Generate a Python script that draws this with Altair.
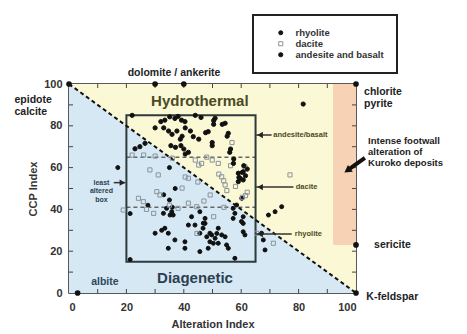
import altair as alt
import pandas as pd

FONT = "Liberation Sans"

# ---------------- data ----------------
rhy_x = [17, 35, 37, 33, 35, 36, 27.5, 21.3, 21.3, 30, 32.3, 33.4, 34.6, 36.9, 40.4, 34.6, 40.4,
         35.2, 36.3, 42.7, 41.6, 43.9, 47.4, 47.4, 45.6, 46.7, 48, 49.7, 50.9, 51.5, 53.2, 54.4,
         49.1, 50.3, 52, 54.9, 55.5, 48.5, 45.6, 57.8, 57.2, 57.8, 60.7, 60.7, 61.3, 52, 60.7,
         60.1, 57.2, 67.1, 67.7, 68.3, 69.5, 71.8, 74.1, 34, 35.8, 32.9, 45.6, 46.8, 49.1, 58.4, 60.2]
rhy_y = [60, 60, 50, 47, 44.5, 41, 42, 38, 16, 28.6, 30, 31, 28.6, 25.4, 24.5, 21.4, 21.4,
         37.3, 37.3, 36.5, 32.5, 32.5, 35.7, 33.3, 28.6, 31, 26.9, 27.8, 26.2, 28.5, 27.8, 26.9,
         24.5, 23.8, 23.8, 23, 21.4, 21.4, 19.8, 16.6, 35.7, 38.1, 33.3, 29.3, 27.8, 31, 36.5,
         34.2, 40.5, 28.6, 25.4, 20.6, 37.3, 38.9, 41.3, 40.5, 38.9, 38.1, 38.9, 33.4, 28.6, 42.1, 45.3]

dac_x = [56.8, 49.9, 45.2, 44, 56.3, 52.2, 53.9, 62.1, 61.5, 60.4, 77, 22, 28.2, 31.1, 41.6, 40.5,
         44.9, 39.4, 24.2, 25.9, 30.6, 31.7, 18.9, 29.5, 41.6, 44.5, 49.2, 50.4, 44.6, 71.2, 65.4,
         26, 30, 36, 48, 52, 58, 55, 47, 35, 38, 54, 27, 46.2, 53.2, 61.3, 54.4]
dac_y = [72, 63.6, 61.2, 63.6, 60.9, 56.9, 53.7, 48.2, 46.6, 45.8, 56.5, 66, 58.9, 56.5, 54.9, 55.5,
         53.1, 50.2, 45.3, 43.7, 48.5, 46.9, 39.7, 38.1, 43, 41.3, 46.9, 36.5, 28.5, 23.8, 28.6,
         66, 65.5, 64.5, 65, 62, 51, 49, 44, 42, 40.5, 41, 40, 62, 55.6, 60.4, 51.7]

and_x = [22, 32, 33.4, 35.1, 36.9, 38, 39.2, 40.4, 33, 34.7, 35.9, 37.6, 39.4, 38.8, 40.5, 42.3,
         45.2, 47.6, 50.4, 50.4, 53.4, 55.1, 49.9, 49.9, 37.1, 39, 40, 41.6, 35.5, 40.5, 56.3, 56,
         57.4, 60.9, 62.1, 60.4, 59.2, 61.5, 81.6, 24.7, 26.5, 23, 44, 46, 30, 43.3, 48.5, 50.9,
         54.4, 55.5, 59, 60.7, 59.6, 60.7, 59, 57.3]
and_y = [85, 82, 82.7, 84.3, 83.5, 84.5, 82.7, 82, 79, 77.5, 75.9, 77.5, 75, 73.6, 79, 77.5,
         73.6, 76.7, 82.5, 80.7, 80.7, 75, 72, 70.5, 69.7, 70.5, 68.9, 67.3, 70.5, 66.5, 68.9, 67.3,
         64.1, 60.9, 59.3, 57.7, 55.3, 56.1, 90.4, 70, 71.6, 69, 85, 84, 79, 74.8, 77.2, 83.6,
         81.2, 76.4, 57.3, 58, 54.9, 54.1, 53.3, 62]

rocks = ["rhyolite", "dacite", "andesite and basalt"]

diag_x = [0, 100]
diag_y = [100, 0]

box_x = [20, 65]
box_y = [15, 85]
dash_levels = [65, 41]

kuroko_x = [92, 100]
kuroko_y = [23, 100]

minerals = ["epidote calcite", "dolomite", "ankerite", "chlorite pyrite", "sericite", "K-feldspar", "albite"]
min_x = [0, 30, 40, 100, 100, 100, 3]
min_y = [100, 100, 100, 100, 23, 0, 0]

tick_vals = [10, 20, 30, 40, 50, 60, 70, 80, 90]
axis_vals = [0, 20, 40, 60, 80, 100]

# ---------------- tables ----------------
pts = pd.DataFrame({
    "ai": rhy_x + dac_x + and_x,
    "ccp": rhy_y + dac_y + and_y,
    "rock": [rocks[0]] * len(rhy_x) + [rocks[1]] * len(dac_x) + [rocks[2]] * len(and_x),
})
diag = pd.DataFrame({"ai": diag_x, "ccp": diag_y, "top": [100, 100], "bot": [0, 0]})
mins = pd.DataFrame({"ai": min_x, "ccp": min_y, "name": minerals})
box = pd.DataFrame({"x": [box_x[0]], "x2": [box_x[1]], "y": [box_y[0]], "y2": [box_y[1]]})
dashes = pd.DataFrame({"x": [box_x[0]] * 2, "x2": [box_x[1]] * 2, "y": dash_levels})
kur = pd.DataFrame({"x": [kuroko_x[0]], "x2": [kuroko_x[1]], "y": [kuroko_y[0]], "y2": [kuroko_y[1]]})
ticks = pd.DataFrame({"v": tick_vals})

X = alt.Scale(domain=[0, 100], nice=False, zero=False)
Y = alt.Scale(domain=[0, 100], nice=False, zero=False)

base = alt.Chart(diag)

blue = base.mark_area(color="#d5e8f4", opacity=1).encode(
    x=alt.X("ai:Q", scale=X, title="Alteration Index",
            axis=alt.Axis(values=axis_vals, grid=False, ticks=False, domain=False,
                          labelPadding=8, titlePadding=6)),
    y=alt.Y("ccp:Q", scale=Y, title="CCP Index",
            axis=alt.Axis(values=axis_vals, grid=False, ticks=False, domain=False,
                          labelPadding=7, titlePadding=5)),
    y2="bot:Q",
)
yellow = base.mark_area(color="#fbf8d6", opacity=1).encode(
    x=alt.X("ai:Q", scale=X), y=alt.Y("top:Q", scale=Y), y2="ccp:Q")

kuroko = alt.Chart(kur).mark_rect(color="#f8d2b4").encode(
    x=alt.X("x:Q", scale=X), x2="x2:Q", y=alt.Y("y:Q", scale=Y), y2="y2:Q")

diag_line = base.mark_line(color="#111", strokeWidth=2, strokeDash=[4, 3]).encode(
    x=alt.X("ai:Q", scale=X), y=alt.Y("ccp:Q", scale=Y))

box_mark = alt.Chart(box).mark_rect(fill=None, stroke="#2d3b3b", strokeWidth=2).encode(
    x=alt.X("x:Q", scale=X), x2="x2:Q", y=alt.Y("y:Q", scale=Y), y2="y2:Q")

dash_mark = alt.Chart(dashes).mark_rule(color="#666", strokeWidth=1.5, strokeDash=[4, 3]).encode(
    x=alt.X("x:Q", scale=X), x2="x2:Q", y=alt.Y("y:Q", scale=Y))

# inward ticks on all four sides
tb = alt.Chart(ticks).mark_rule(color="#444", strokeWidth=1)
ticks_l = alt.layer(
    tb.encode(x=alt.X("v:Q", scale=X), y=alt.value(209), y2=alt.value(205)),
    tb.encode(x=alt.X("v:Q", scale=X), y=alt.value(0), y2=alt.value(4)),
    tb.encode(y=alt.Y("v:Q", scale=Y), x=alt.value(0), x2=alt.value(4)),
    tb.encode(y=alt.Y("v:Q", scale=Y), x=alt.value(287), x2=alt.value(283)),
)

points = alt.Chart(pts).mark_point(strokeWidth=1, opacity=1).encode(
    x=alt.X("ai:Q", scale=X),
    y=alt.Y("ccp:Q", scale=Y),
    shape=alt.Shape("rock:N", scale=alt.Scale(domain=rocks, range=["circle", "square", "circle"]),
                    legend=alt.Legend(title=None)),
    fill=alt.Fill("rock:N", scale=alt.Scale(domain=rocks, range=["#111", "transparent", "#111"]),
                  legend=alt.Legend(title=None)),
    stroke=alt.Stroke("rock:N", scale=alt.Scale(domain=rocks, range=["#111", "#8a949c", "#111"]),
                      legend=alt.Legend(title=None)),
    size=alt.Size("rock:N", scale=alt.Scale(domain=rocks, range=[16, 18, 9]),
                  legend=alt.Legend(title=None)),
)

min_pts = alt.Chart(mins).mark_circle(color="#111", size=32, opacity=1).encode(
    x=alt.X("ai:Q", scale=X), y=alt.Y("ccp:Q", scale=Y))

# ---------------- annotations ----------------
def txt(df, size, align="left", color="#222", weight="bold", baseline="middle"):
    return alt.Chart(pd.DataFrame(df)).mark_text(
        font=FONT, fontSize=size, fontWeight=weight, align=align, baseline=baseline,
        color=color, lineHeight=size + 1.5
    ).encode(x=alt.X("x:Q", scale=X), y=alt.Y("y:Q", scale=Y), text="t:N")

labels = alt.layer(
    txt({"x": [-19], "y": [92.2], "t": [["epidote", "calcite"]]}, 10.5),
    txt({"x": [36.6], "y": [105.3], "t": ["dolomite / ankerite"]}, 10.5, align="center"),
    txt({"x": [102.8], "y": [96.4], "t": [["chlorite", "pyrite"]]}, 10.5),
    txt({"x": [106.3], "y": [23], "t": ["sericite"]}, 10.5),
    txt({"x": [103.6], "y": [-2], "t": ["K-feldspar"]}, 10.5),
    txt({"x": [12.5], "y": [5.3], "t": ["albite"]}, 10.5, align="center", color="#2f4658"),
    txt({"x": [45.6], "y": [92], "t": ["Hydrothermal"]}, 15, align="center", color="#4a4a24"),
    txt({"x": [43.9], "y": [7.2], "t": ["Diagenetic"]}, 15, align="center", color="#2c3f50"),
    txt({"x": [11.3], "y": [52.8], "t": [["least", "altered", "box"]]}, 7, align="center", color="#2c3f50"),
    txt({"x": [71.2, 79, 78.7], "y": [75.6, 50.7, 28.2],
         "t": ["andesite/basalt", "dacite", "rhyolite"]}, 7.5, color="#4a4a24"),
    txt({"x": [104.2], "y": [72.7], "t": [["Intense footwall", "alteration of", "Kuroko deposits"]]}, 9.5),
)

arr = pd.DataFrame({
    "x": [70.6, 78.2, 77.6, 15.6],
    "x2": [65.2, 65.2, 65.2, 19.6],
    "y": [75.6, 50.7, 28.2, 52.8],
})
arrow_lines = alt.Chart(arr).mark_rule(color="#333", strokeWidth=1.5).encode(
    x=alt.X("x:Q", scale=X), x2="x2:Q", y=alt.Y("y:Q", scale=Y))
heads = alt.Chart(pd.DataFrame({
    "x": [66.6, 66.6, 66.6, 18.6], "y": [75.6, 50.7, 28.2, 52.8], "a": [270, 270, 270, 90]
})).mark_point(shape="triangle-up", filled=True, color="#222", size=40, opacity=1).encode(
    x=alt.X("x:Q", scale=X), y=alt.Y("y:Q", scale=Y), angle=alt.Angle("a:Q", scale=None))

big_arrow = alt.Chart(pd.DataFrame({"x": [103.1], "x2": [97.6], "y": [64.6], "y2": [59.3]})).mark_rule(
    color="#111", strokeWidth=4).encode(x=alt.X("x:Q", scale=X), x2="x2:Q", y=alt.Y("y:Q", scale=Y), y2="y2:Q")
big_head = alt.Chart(pd.DataFrame({"x": [97.0], "y": [58.6], "a": [235]})).mark_point(
    shape="triangle-up", filled=True, color="#111", size=70, opacity=1).encode(
    x=alt.X("x:Q", scale=X), y=alt.Y("y:Q", scale=Y), angle=alt.Angle("a:Q", scale=None))

chart = alt.layer(
    blue, yellow, kuroko, dash_mark, box_mark, diag_line, ticks_l,
    points, min_pts, arrow_lines, heads, big_arrow, big_head, labels
).resolve_scale(shape="shared", fill="shared", stroke="shared", size="shared").properties(
    width=287, height=209,
    autosize=alt.AutoSizeParams(type="none"),
    padding={"left": 61, "top": 76, "right": 100, "bottom": 40},
).configure_view(stroke="#222", strokeWidth=1.5).configure_axis(
    labelFont=FONT, labelFontSize=11, labelFontWeight="bold", labelColor="#333",
    titleFont=FONT, titleFontSize=11, titleFontWeight="bold", titleColor="#333",
).configure_legend(
    orient="none", legendX=184, legendY=-69, strokeColor="#222", strokeWidth=2,
    fillColor="white", padding=13, labelFont=FONT, labelFontSize=9.5, labelFontWeight="bold",
    labelColor="#333", rowPadding=0, symbolStrokeWidth=1, labelOffset=10, symbolOffset=10,
)

chart.save("out.html", embed_options={"renderer": "svg", "actions": False})
